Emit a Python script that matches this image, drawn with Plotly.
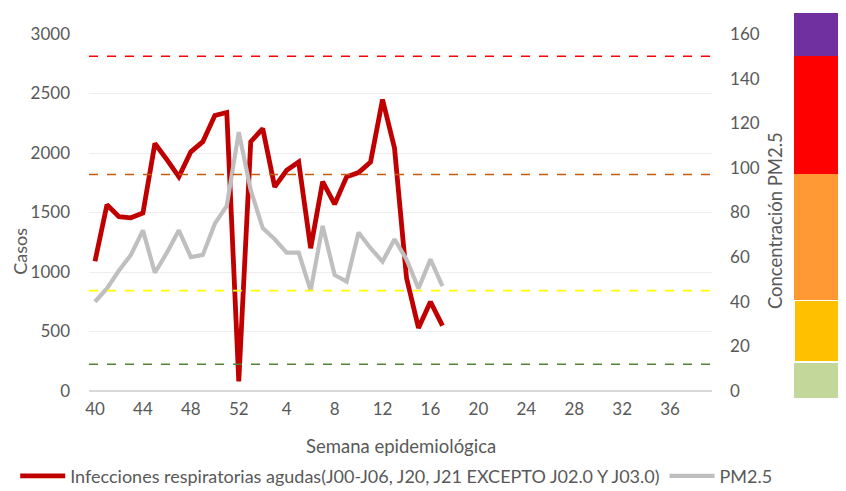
import plotly.graph_objects as go

# epidemiological weeks shown on the category axis (40..52, then 1..39)
weeks = [str(w) for w in list(range(40, 53)) + list(range(1, 40))]
tick_weeks = weeks[::4]

# weeks with data (week 40 to week 17)
data_weeks = weeks[:30]
casos_ira = [1090, 1565, 1465, 1455, 1495, 2080, 1945, 1800, 2010, 2095,
             2315, 2340, 80, 2095, 2205, 1715, 1855, 1925, 1200, 1760,
             1570, 1800, 1835, 1925, 2450, 2040, 950, 530, 750, 550]
pm25 = [40, 46, 54, 61, 72, 53, 62, 72, 60, 61,
        75, 83, 116, 90, 73, 68, 62, 62, 45, 74,
        52, 49, 71, 64, 58, 68, 59, 46, 59, 47]

# PM2.5 reference levels (dashed lines)
umbrales = [12, 45, 97, 150]
umbral_colores = ["#548235", "#FFFF00", "#C55A11", "#FF0000"]

# colour scale bar on the right
bandas = [16, 28, 56, 53, 19]
banda_colores = ["#C4D79B", "#FFC000", "#FF9933", "#FF0000", "#7030A0"]

FONT = "Lato"
GREY_TXT = "#595959"

fig = go.Figure()

fig.add_trace(go.Scatter(
    x=data_weeks, y=casos_ira, mode="lines",
    name="Infecciones respiratorias agudas(J00-J06, J20, J21 EXCEPTO J02.0 Y J03.0)",
    line=dict(color="#C00000", width=4.8),
    yaxis="y"
))
fig.add_trace(go.Scatter(
    x=data_weeks, y=pm25, mode="lines", name="PM2.5",
    line=dict(color="#BFBFBF", width=4.2),
    yaxis="y2"
))

for i, (val, col) in enumerate(zip(bandas, banda_colores)):
    fig.add_trace(go.Bar(
        x=["escala"], y=[val], width=1, showlegend=False,
        marker=dict(color=col,
                    line=dict(color="white", width=2 if i == 1 else 0)),
        xaxis="x2", yaxis="y3", hoverinfo="skip"
    ))

for val, col in zip(umbrales, umbral_colores):
    fig.add_shape(type="line", xref="x domain", yref="y2",
                  x0=0, x1=1, y0=val, y1=val,
                  line=dict(color=col, width=1.6, dash="dash"))

# the page body adds an 8px offset, so the figure is 8px smaller each way
fig.update_layout(
    width=838, height=483,
    margin=dict(l=81, r=4, t=5, b=93, autoexpand=False),
    plot_bgcolor="white", paper_bgcolor="white",
    barmode="stack", bargap=0,
    font=dict(family=FONT, color=GREY_TXT, size=16),
    xaxis=dict(
        domain=[0, 0.8274], type="category", categoryorder="array",
        categoryarray=weeks, range=[-0.5, len(weeks) - 0.5],
        tickmode="array", tickvals=tick_weeks, ticktext=tick_weeks,
        showgrid=False, showline=False, zeroline=False, ticks="",
        ticklabelstandoff=6,
        tickfont=dict(size=17, color=GREY_TXT)
    ),
    yaxis=dict(
        domain=[0.01818, 0.94545], range=[0, 3000], dtick=500,
        showgrid=True, gridcolor="#EEEEEE", gridwidth=1,
        zeroline=True, zerolinecolor="#D9D9D9", zerolinewidth=2,
        showline=False, ticks="", ticklabelstandoff=18,
        tickfont=dict(size=17, color=GREY_TXT)
    ),
    yaxis2=dict(
        overlaying="y", side="right", anchor="x", range=[0, 160], dtick=20,
        showgrid=False, zeroline=False, showline=False, ticks="",
        ticklabelstandoff=17,
        tickfont=dict(size=17, color=GREY_TXT)
    ),
    xaxis2=dict(domain=[0.9363, 1.0], anchor="y3", range=[-0.5, 0.5],
                visible=False),
    yaxis3=dict(domain=[0, 1], anchor="x2", range=[0, sum(bandas)],
                visible=False),
    legend=dict(
        orientation="h", x=-0.098, y=-0.203, xanchor="left", yanchor="middle",
        traceorder="normal", itemwidth=45,
        font=dict(size=18, color=GREY_TXT),
        bgcolor="rgba(0,0,0,0)"
    ),
    annotations=[
        dict(text="Casos", x=-0.092, y=0.382, xref="paper", yref="paper",
             xanchor="center", yanchor="middle",
             textangle=-90, showarrow=False,
             font=dict(size=18, color=GREY_TXT)),
        dict(text="Concentración PM2.5", x=0.911, y=0.462, xref="paper",
             yref="paper", xanchor="center", yanchor="middle",
             textangle=-90, showarrow=False,
             font=dict(size=18.5, color=GREY_TXT)),
        dict(text="Semana epidemiológica", x=0.4137, y=-0.125, xref="paper",
             yref="paper", xanchor="center", yanchor="middle",
             showarrow=False,
             font=dict(size=18.5, color=GREY_TXT)),
    ],
)

fig.write_html("out.html")
